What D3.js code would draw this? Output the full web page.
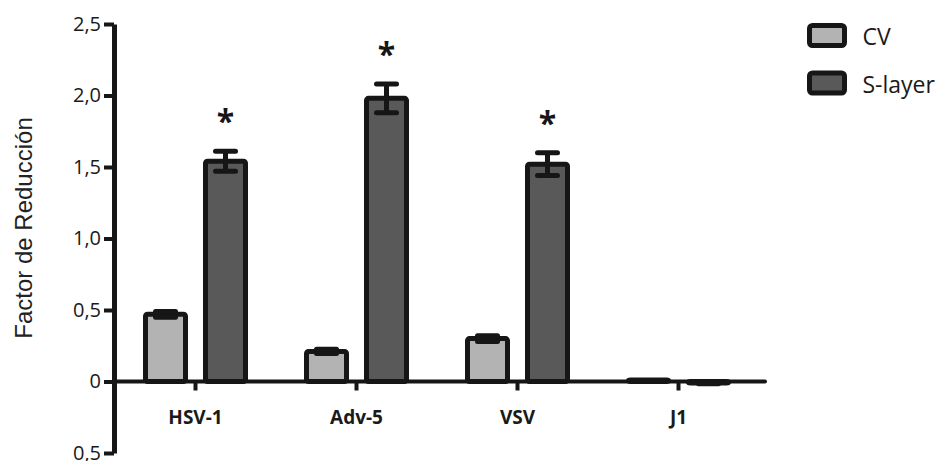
<!DOCTYPE html>
<html>
<head>
<meta charset="utf-8">
<script src="https://cdn.jsdelivr.net/npm/d3@7/dist/d3.min.js"></script>
<style>
  html, body { margin: 0; padding: 0; background: #fff; }
  svg { display: block; }
</style>
</head>
<body>
<svg id="chart" width="943" height="461"></svg>
<script>
// Virus categories and the two treatments
const categories = ["HSV-1", "Adv-5", "VSV", "J1"];
const series = ["CV", "S-layer"];

// Reduction factor per virus (mean) and its error
const cvValues = [0.47, 0.21, 0.30, 0.01];
const cvErrors = [0.02, 0.015, 0.02, 0.0];
const sLayerValues = [1.54, 1.98, 1.52, -0.01];
const sLayerErrors = [0.07, 0.10, 0.08, 0.005];

// Significance marks on the S-layer bars
const significant = [true, true, true, false];

// Y-axis ticks and the labels printed next to them
const yTickValues = [-0.5, 0, 0.5, 1.0, 1.5, 2.0, 2.5];
const yTickLabels = ["0,5", "0", "0,5", "1,0", "1,5", "2,0", "2,5"];

const yTitle = "Factor de Reducción";

const fills = { "CV": "#b3b3b3", "S-layer": "#595959" };
const ink = "#161616";

const svg = d3.select("#chart");

const y = d3.scaleLinear().domain([-0.5, 2.5]).range([453, 24]);
const x = d3.scaleBand().domain(categories).range([115, 759]);
const xs = d3.scaleBand().domain(series).range([-60, 60])
  .paddingInner(1 / 3).paddingOuter(1 / 6);

const rows = categories.map((c, i) => ({
  cat: c,
  bars: [
    { s: "CV", v: cvValues[i], e: cvErrors[i] },
    { s: "S-layer", v: sLayerValues[i], e: sLayerErrors[i], star: significant[i] }
  ]
}));

// Bars
const groups = svg.append("g").selectAll("g")
  .data(rows).join("g")
  .attr("transform", d => `translate(${x(d.cat) + x.bandwidth() / 2},0)`);

const bar = groups.selectAll("g.bar")
  .data(d => d.bars).join("g").attr("class", "bar");

bar.append("rect")
  .attr("x", d => xs(d.s))
  .attr("width", xs.bandwidth())
  .attr("y", d => y(Math.max(d.v, 0)))
  .attr("height", d => Math.abs(y(d.v) - y(0)))
  .attr("rx", 2)
  .attr("fill", d => fills[d.s])
  .attr("stroke", ink)
  .attr("stroke-width", 5)
  .attr("stroke-linejoin", "round");

// Error bars (stem + caps)
const errs = bar.filter(d => d.e > 0);
const capHalf = 10;
errs.append("line")
  .attr("x1", d => xs(d.s) + xs.bandwidth() / 2)
  .attr("x2", d => xs(d.s) + xs.bandwidth() / 2)
  .attr("y1", d => y(d.v - d.e))
  .attr("y2", d => y(d.v + d.e))
  .attr("stroke", ink).attr("stroke-width", 5);
[1, -1].forEach(sign => {
  errs.append("line")
    .attr("x1", d => xs(d.s) + xs.bandwidth() / 2 - capHalf)
    .attr("x2", d => xs(d.s) + xs.bandwidth() / 2 + capHalf)
    .attr("y1", d => y(d.v + sign * d.e))
    .attr("y2", d => y(d.v + sign * d.e))
    .attr("stroke", ink).attr("stroke-width", 5)
    .attr("stroke-linecap", "round");
});

// Asterisks
bar.filter(d => d.star).append("text")
  .attr("x", d => xs(d.s) + xs.bandwidth() / 2)
  .attr("y", d => y(d.v + d.e) - 18)
  .attr("text-anchor", "middle")
  .attr("font-family", "Open Sans")
  .attr("font-weight", "bold")
  .attr("font-size", 32)
  .attr("fill", ink)
  .text("*");

// X axis: baseline at zero with a tick under each category
const xAxis = svg.append("g")
  .attr("transform", `translate(0,${y(0)})`)
  .call(d3.axisBottom(x).tickSize(9).tickSizeOuter(0).tickPadding(20));
xAxis.select(".domain").remove();
xAxis.selectAll(".tick line").attr("stroke", ink).attr("stroke-width", 4);
xAxis.selectAll(".tick text")
  .attr("font-family", "Open Sans")
  .attr("font-weight", "bold")
  .attr("font-size", 19)
  .attr("fill", "#1a1a1a");
svg.append("line")
  .attr("x1", 114).attr("x2", 765)
  .attr("y1", y(0)).attr("y2", y(0))
  .attr("stroke", ink).attr("stroke-width", 4)
  .attr("stroke-linecap", "round");

// Y axis
const yAxis = svg.append("g")
  .attr("transform", "translate(114,0)")
  .call(d3.axisLeft(y).tickValues(yTickValues)
    .tickFormat((d, i) => yTickLabels[i])
    .tickSize(10).tickSizeOuter(0).tickPadding(3));
yAxis.select(".domain").attr("stroke", ink).attr("stroke-width", 5);
yAxis.selectAll(".tick line").attr("stroke", ink).attr("stroke-width", 4);
yAxis.selectAll(".tick text")
  .attr("font-family", "Open Sans")
  .attr("font-size", 20)
  .attr("dy", "0.3em")
  .attr("fill", "#1a1a1a");

// Y title
svg.append("text")
  .attr("transform", "translate(32,228) rotate(-90)")
  .attr("text-anchor", "middle")
  .attr("font-family", "Liberation Sans")
  .attr("font-size", 24)
  .attr("fill", "#222")
  .text(yTitle);

// Legend
const legend = svg.append("g").selectAll("g")
  .data(series).join("g")
  .attr("transform", (d, i) => `translate(809.5,${25.5 + i * 47.5})`);
legend.append("rect")
  .attr("width", 35).attr("height", 20).attr("rx", 3)
  .attr("fill", d => fills[d])
  .attr("stroke", ink).attr("stroke-width", 5);
legend.append("text")
  .attr("x", 53).attr("y", 19.5)
  .attr("font-family", "Open Sans")
  .attr("font-size", 23)
  .attr("fill", "#1a1a1a")
  .text(d => d);
</script>
</body>
</html>
